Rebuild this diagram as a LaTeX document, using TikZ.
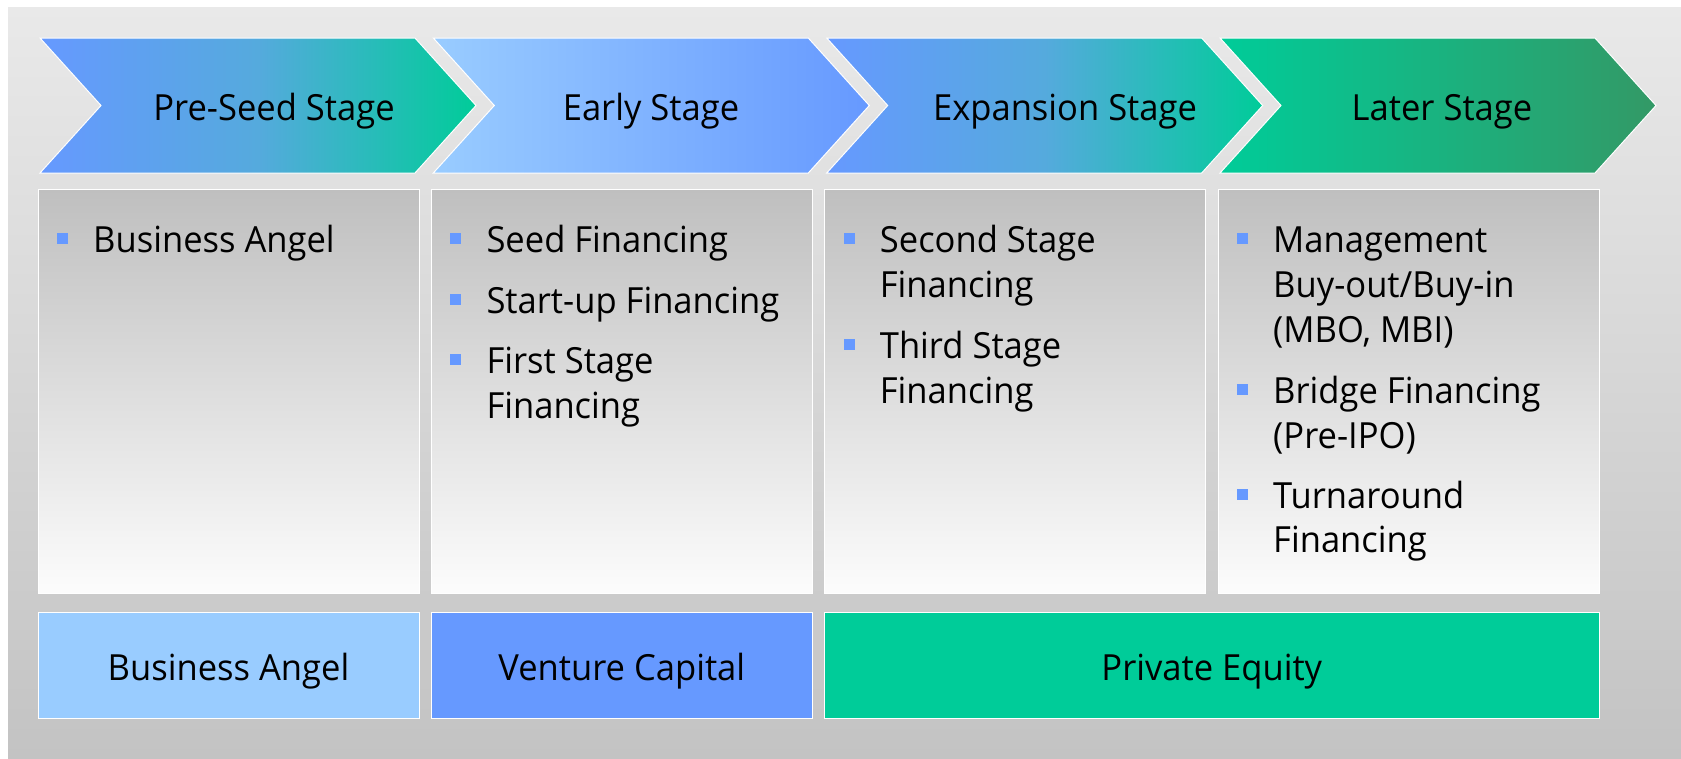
\documentclass[tikz,border=0pt]{standalone}
\usepackage{fontspec}
\setmainfont{Open Sans}[FakeStretch=0.96]
\definecolor{blueA}{HTML}{6699FF}
\definecolor{blueL}{HTML}{99CCFF}
\definecolor{greenA}{HTML}{00CC99}
\definecolor{greenD}{HTML}{339966}
\definecolor{midBG}{HTML}{55AADD}
\definecolor{bgTop}{HTML}{E9E9E9}
\definecolor{bgBot}{HTML}{C3C3C3}
\definecolor{boxTop}{HTML}{BFBFBF}
\definecolor{boxBot}{HTML}{FCFCFC}
\begin{document}
\begin{tikzpicture}[x=1pt,y=-1pt,
  lbl/.style={font=\fontsize{36}{45}\selectfont, inner sep=0pt, text=black},
  itemtxt/.style={lbl, anchor=base west},
  headtxt/.style={lbl, anchor=base},
  bul/.style={fill=blueA},
  edgeline/.style={draw=white, line width=1pt},
  chevA/.style={edgeline, left color=blueA, right color=greenA, middle color=midBG},
  chevB/.style={edgeline, left color=blueL, right color=blueA},
  chevC/.style={edgeline, left color=greenA, right color=greenD},
  mainbox/.style={edgeline, top color=boxTop, bottom color=boxBot}]

\useasboundingbox (0,0) rectangle (1681,758);
\fill[white] (0,0) rectangle (1681,758);
\shade[top color=bgTop, bottom color=bgBot] (8,7) rectangle (1681,758);

% chevrons
\def\chev#1#2{\shade[#2] (#1,38) -- ++(375,0) -- ++(61,67.5) -- ++(-61,67.5) -- ++(-375,0) -- ++(61,-67.5) -- cycle;}
\chev{40}{chevA}
\chev{433.3}{chevB}
\chev{826.7}{chevA}
\chev{1220}{chevC}

\node[headtxt] (h1) at (274,120) {Pre-Seed Stage};
\node[headtxt] (h2) at (651,120) {Early Stage};
\node[headtxt] (h3) at (1065,120) {Expansion Stage};
\node[headtxt] (h4) at (1442,120) {Later Stage};

% main boxes
\shade[mainbox] (38,189) rectangle (419,593);
\shade[mainbox] (431.3,189) rectangle (812.3,593);
\shade[mainbox] (824.7,189) rectangle (1205.7,593);
\shade[mainbox] (1218,189) rectangle (1599,593);

% bullets: \bl{boxleft}{baseline}
\def\bl#1#2{\fill[bul] (#1+19,#2-19.5) rectangle (#1+30,#2-8.5);}

% column 1
\bl{38}{252}
\node[itemtxt] (a1) at (93,252) {Business Angel};

% column 2
\bl{431.3}{252}
\node[itemtxt] (b1) at (486.3,252) {Seed Financing};
\bl{431.3}{313}
\node[itemtxt] (b2) at (486.3,313) {Start-up Financing};
\bl{431.3}{373}
\node[itemtxt] (b3) at (486.3,373) {First Stage};
\node[itemtxt] (b3b) at (486.3,418) {Financing};

% column 3
\bl{824.7}{252}
\node[itemtxt] (c1) at (879.7,252) {Second Stage};
\node[itemtxt] (c1b) at (879.7,297) {Financing};
\bl{824.7}{358}
\node[itemtxt] (c2) at (879.7,358) {Third Stage};
\node[itemtxt] (c2b) at (879.7,403) {Financing};

% column 4
\bl{1218}{252}
\node[itemtxt] (d1) at (1273,252) {Management};
\node[itemtxt] (d1b) at (1273,297) {Buy-out/Buy-in};
\node[itemtxt] (d1c) at (1273,342) {(MBO, MBI)};
\bl{1218}{403}
\node[itemtxt] (d2) at (1273,403) {Bridge Financing};
\node[itemtxt] (d2b) at (1273,448) {(Pre-IPO)};
\bl{1218}{508}
\node[itemtxt] (d3) at (1273,508) {Turnaround};
\node[itemtxt] (d3b) at (1273,552) {Financing};

% bottom boxes
\fill[blueL] (38,612) rectangle (419,718);
\draw[edgeline] (38,612) rectangle (419,718);
\fill[blueA] (431.3,612) rectangle (812.3,718);
\draw[edgeline] (431.3,612) rectangle (812.3,718);
\fill[greenA] (824.7,612) rectangle (1599,718);
\draw[edgeline] (824.7,612) rectangle (1599,718);

\node[headtxt] (f1) at (228.5,680) {Business Angel};
\node[headtxt] (f2) at (621.8,680) {Venture Capital};
\node[headtxt] (f3) at (1211.8,680) {Private Equity};
\end{tikzpicture}
\end{document}
